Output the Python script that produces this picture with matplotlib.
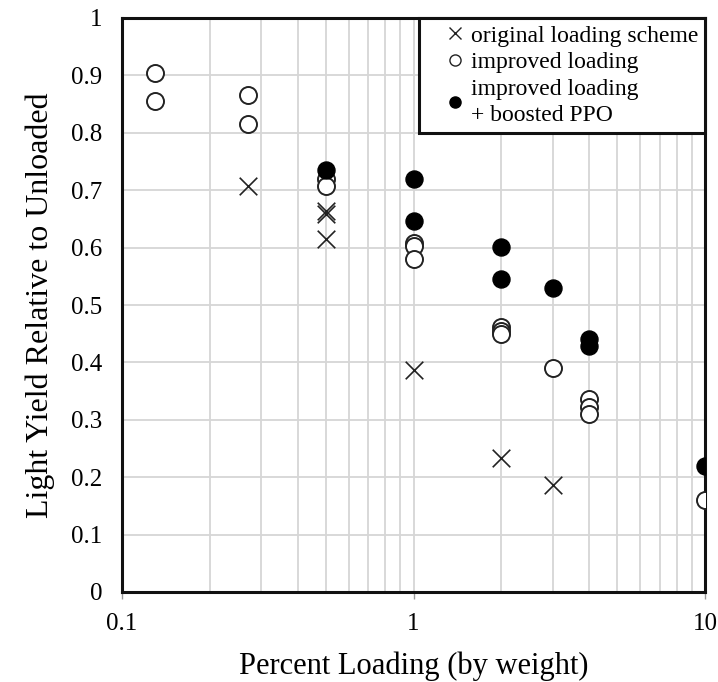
import matplotlib
matplotlib.use("Agg")
import matplotlib.pyplot as plt
from matplotlib.lines import Line2D
from matplotlib.ticker import FixedLocator, NullFormatter

plt.rcParams['font.family'] = ['Liberation Serif', 'DejaVu Serif']

orig_x = [0.27, 0.5, 0.5, 0.5, 1.0, 2.0, 3.0]
orig_y = [0.708, 0.663, 0.658, 0.615, 0.387, 0.233, 0.186]

impr_x = [0.13, 0.13, 0.27, 0.27, 0.5, 0.5, 1.0, 1.0, 1.0, 2.0, 2.0, 2.0, 3.0, 4.0, 4.0, 4.0, 10.0]
impr_y = [0.905, 0.856, 0.866, 0.816, 0.72, 0.708, 0.608, 0.603, 0.58, 0.462, 0.455, 0.45, 0.39, 0.337, 0.322, 0.31, 0.16]

boost_x = [0.5, 1.0, 1.0, 2.0, 2.0, 3.0, 4.0, 4.0, 10.0]
boost_y = [0.735, 0.72, 0.646, 0.601, 0.545, 0.53, 0.44, 0.428, 0.22]

fig = plt.figure(figsize=(7.18, 6.82), dpi=100)
ax = fig.add_axes([122/718, 1 - 592/682, (705-122)/718, (592-18)/682])

ax.set_xscale('log')
ax.set_xlim(0.1, 10)
ax.set_ylim(0, 1)

minors = [m * d for d in (0.1, 1) for m in range(2, 10)]
ax.xaxis.set_minor_locator(FixedLocator(minors))
ax.xaxis.set_minor_formatter(NullFormatter())
ax.set_xticks([0.1, 1, 10])
ax.set_xticklabels(['0.1', '1', '10'])
ax.set_yticks([i / 10 for i in range(11)])
ax.set_yticklabels(['0'] + [f'{i/10:.1f}' for i in range(1, 10)] + ['1'])

ax.grid(True, which='major', color='#d6d6d6', linewidth=1.3, zorder=0)
ax.grid(True, which='minor', axis='x', color='#d6d6d6', linewidth=1.3, zorder=0)
ax.set_axisbelow(True)

for s in ax.spines.values():
    s.set_linewidth(2.2)
    s.set_color('#111111')

ax.tick_params(axis='y', which='major', labelsize=18, length=0, pad=14)
ax.tick_params(axis='x', which='major', labelsize=18, length=5, width=1, color='#999999', pad=10)
ax.tick_params(axis='x', which='minor', length=0)

ax.scatter(orig_x, orig_y, marker='x', s=160, c='#222222', linewidths=1.2, zorder=3)
ax.scatter(impr_x, impr_y, marker='o', s=150, facecolors='white', edgecolors='#222222', linewidths=1.4, zorder=3)
ax.scatter(boost_x, boost_y, marker='o', s=150, facecolors='black', edgecolors='black', zorder=4)

ax.set_xlabel('Percent Loading (by weight)', fontsize=22, labelpad=12)
ax.set_ylabel('Light Yield Relative to Unloaded', fontsize=23, labelpad=12)

handles = [
    Line2D([], [], marker='x', linestyle='none', color='#222222', markersize=8, markeredgewidth=1.0),
    Line2D([], [], marker='o', linestyle='none', markerfacecolor='white', markeredgecolor='#222222', markersize=8, markeredgewidth=1.0),
    Line2D([], [], marker='o', linestyle='none', color='black', markersize=8),
]
labels = ['original loading scheme', 'improved loading', 'improved loading\n+ boosted PPO']
leg = ax.legend(handles, labels, loc='upper right', bbox_to_anchor=(1.0, 1.0), borderaxespad=0,
                fontsize=17, frameon=True, fancybox=False, handlelength=2.5, handletextpad=-0.6,
                labelspacing=0.22, borderpad=0.3, framealpha=1)
leg.get_texts()[2].set_linespacing(1.35)
leg.get_frame().set_edgecolor('#111111')
leg.get_frame().set_linewidth(2.2)

fig.savefig('out.png', dpi=100)
